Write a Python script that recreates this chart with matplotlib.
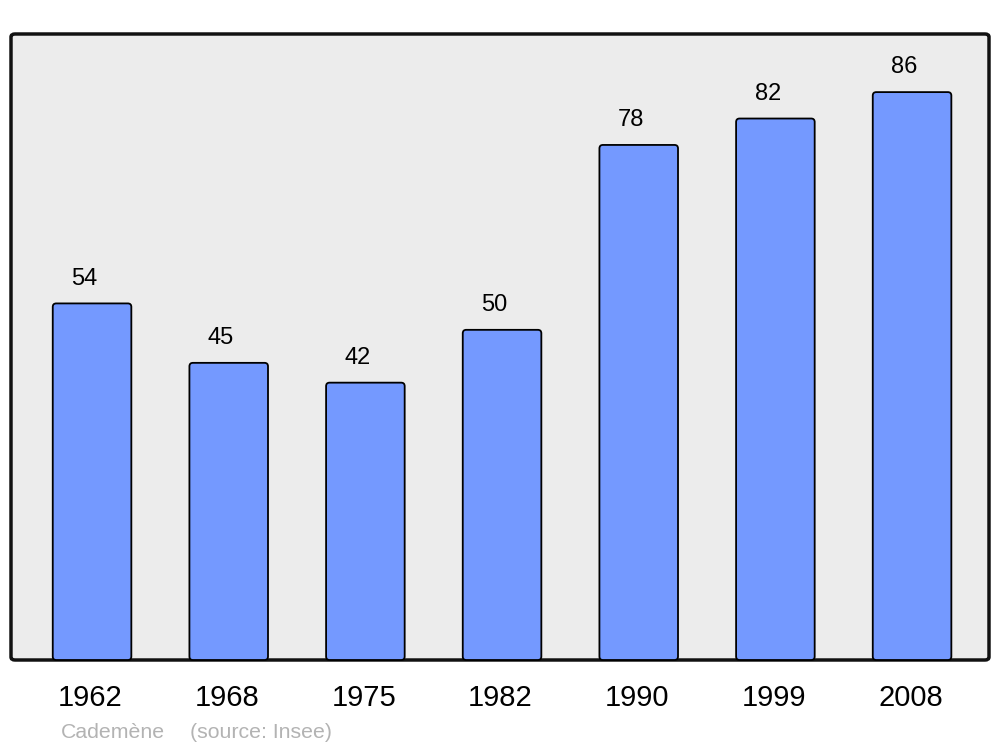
import matplotlib
matplotlib.use("Agg")
import matplotlib.pyplot as plt
from matplotlib.patches import FancyBboxPatch
from matplotlib.transforms import ScaledTranslation

years = ["1962", "1968", "1975", "1982", "1990", "1999", "2008"]
population = [54, 45, 42, 50, 78, 82, 86]
commune = "Cademène"
source = "(source: Insee)"

plt.rcParams['font.family'] = ['Liberation Sans', 'DejaVu Sans']

fig = plt.figure(figsize=(10, 7.47), dpi=100)
W, H = 1000, 747

# background frame
frame = FancyBboxPatch((11 / W, (747 - 660) / H), 978 / W, 626 / H,
                       boxstyle="round,pad=0,rounding_size=0.004",
                       transform=fig.transFigure, facecolor="#ececec",
                       edgecolor="#111111", linewidth=2.5, zorder=0)
fig.patches.append(frame)

ax = fig.add_axes([11 / W, (747 - 660) / H, 978 / W, 626 / H])
ax.set_zorder(2)
ax.set_facecolor("none")
for s in ax.spines.values():
    s.set_visible(False)

x = list(range(len(years)))
bars = ax.bar(x, population, width=0.575, color="#7499ff", edgecolor="black", linewidth=1.3)
ax.set_xlim(-0.593, 6.563)
ax.set_ylim(0, 94.8)

# replace rectangles with rounded versions of same geometry
px_x = 136.67
px_y = 6.605
r_x = 3.5 / px_x
aspect = (3.5 / px_y) / r_x
for b in bars:
    bx, by = b.get_x(), b.get_y()
    bw, bh = b.get_width(), b.get_height()
    p = FancyBboxPatch((bx, by), bw, bh,
                       boxstyle=f"round,pad=0,rounding_size={r_x}",
                       mutation_aspect=aspect,
                       facecolor="#7499ff", edgecolor="black", linewidth=1.3,
                       zorder=2, clip_on=False)
    ax.add_patch(p)
    b.set_visible(False)

for xi, v in zip(x, population):
    ax.annotate(str(v), (xi, v), xytext=(-5.5, 10), textcoords="offset points",
                ha="center", va="bottom", fontsize=17, color="black")

ax.set_xticks(x)
ax.set_xticklabels(years, fontsize=21)
ax.tick_params(axis="x", length=0, pad=17)
ax.set_yticks([])
shift = ScaledTranslation(-1.5 / 100, 0, fig.dpi_scale_trans)
for lbl in ax.get_xticklabels():
    lbl.set_transform(lbl.get_transform() + shift)

fig.text(61 / W, 1 - 732 / H, commune, fontsize=15.3, color="#b3b3b3", va="center", ha="left")
fig.text(190 / W, 1 - 732 / H, source, fontsize=15.3, color="#b3b3b3", va="center", ha="left")

fig.savefig("out.png", dpi=100)
